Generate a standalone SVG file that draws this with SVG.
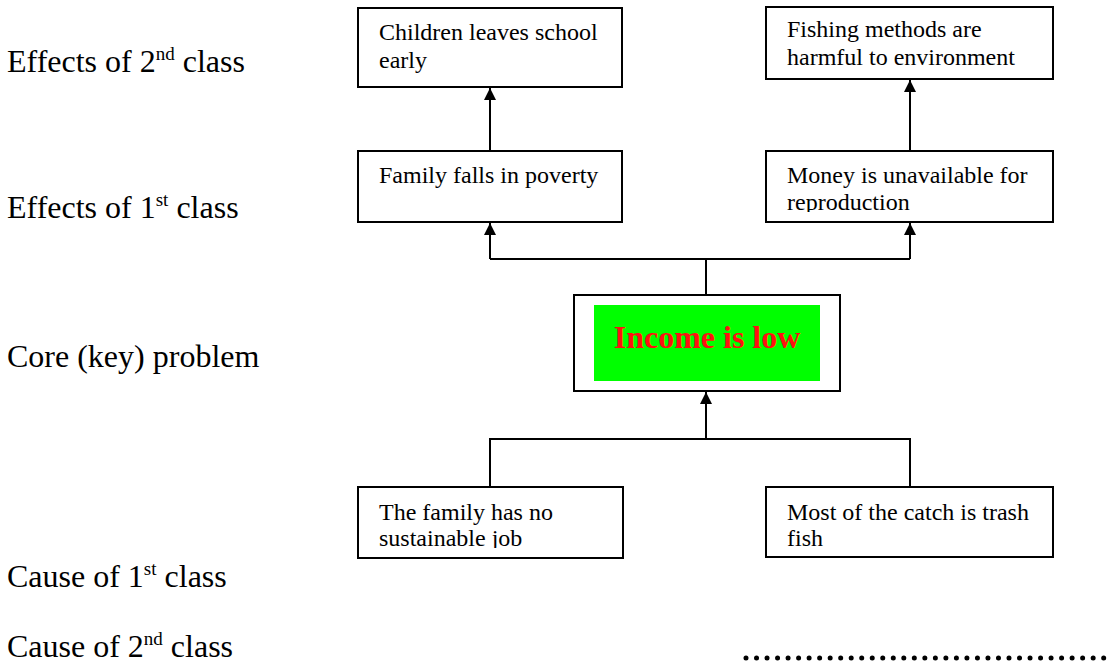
<svg xmlns="http://www.w3.org/2000/svg" width="1117" height="666" viewBox="0 0 1117 666">
  <style>
    .box { fill: #fff; stroke: #000; stroke-width: 2; }
    .txt { font-family: "Liberation Serif", "Times New Roman", serif; font-size: 24px; fill: #000; }
    .lbl { font-family: "Liberation Serif", "Times New Roman", serif; font-size: 32px; fill: #000; }
    .sup { font-size: 19px; }
    .core { font-family: "Liberation Serif", "Times New Roman", serif; font-size: 32px; font-weight: bold; fill: #ff1010; }
    .wire { fill: none; stroke: #000; stroke-width: 2; }
  </style>
  <defs>
    <marker id="arrow" viewBox="0 0 12 12" refX="12" refY="6" markerWidth="12" markerHeight="12" markerUnits="userSpaceOnUse" orient="auto">
      <path d="M0,0 L12,6 L0,12 Z" fill="#000"/>
    </marker>
    <!-- text in the boxes is cut off a little above the bottom edge -->
    <clipPath id="clip-b1"><rect x="358" y="8" width="264" height="69"/></clipPath>
    <clipPath id="clip-b2"><rect x="766" y="7" width="287" height="63"/></clipPath>
    <clipPath id="clip-b3"><rect x="358" y="151" width="264" height="61"/></clipPath>
    <clipPath id="clip-b4"><rect x="766" y="151" width="287" height="61"/></clipPath>
    <clipPath id="clip-b5"><rect x="358" y="487" width="265" height="61"/></clipPath>
    <clipPath id="clip-b6"><rect x="766" y="487" width="287" height="61"/></clipPath>
  </defs>

  <rect width="1117" height="666" fill="#fff"/>

  <!-- level labels -->
  <g id="labels">
    <text class="lbl" x="7" y="72">Effects of 2<tspan class="sup" dy="-12">nd</tspan><tspan dy="12"> class</tspan></text>
    <text class="lbl" x="7" y="218">Effects of 1<tspan class="sup" dy="-12">st</tspan><tspan dy="12"> class</tspan></text>
    <text class="lbl" x="7" y="367">Core (key) problem</text>
    <text class="lbl" x="7" y="587">Cause of 1<tspan class="sup" dy="-12">st</tspan><tspan dy="12"> class</tspan></text>
    <text class="lbl" x="7" y="657">Cause of 2<tspan class="sup" dy="-12">nd</tspan><tspan dy="12"> class</tspan></text>
  </g>

  <!-- connectors -->
  <g id="connectors">
    <line class="wire" x1="490" y1="151" x2="490" y2="88" marker-end="url(#arrow)"/>
    <line class="wire" x1="910" y1="151" x2="910" y2="80" marker-end="url(#arrow)"/>
    <path class="wire" d="M706,295 V259 M490,259 H910"/>
    <line class="wire" x1="490" y1="259" x2="490" y2="223" marker-end="url(#arrow)"/>
    <line class="wire" x1="910" y1="259" x2="910" y2="223" marker-end="url(#arrow)"/>
    <path class="wire" d="M490,487 V439 H910 V487"/>
    <line class="wire" x1="706" y1="439" x2="706" y2="392" marker-end="url(#arrow)"/>
  </g>

  <!-- effects, 2nd class -->
  <g id="children-leave-school">
    <rect class="box" x="358" y="8" width="264" height="79"/>
    <text class="txt" x="379" y="40" clip-path="url(#clip-b1)">Children leaves school<tspan x="379" dy="28">early</tspan></text>
  </g>
  <g id="harmful-fishing">
    <rect class="box" x="766" y="7" width="287" height="72"/>
    <text class="txt" x="787" y="37" clip-path="url(#clip-b2)">Fishing methods are<tspan x="787" dy="28">harmful to environment</tspan></text>
  </g>

  <!-- effects, 1st class -->
  <g id="family-poverty">
    <rect class="box" x="358" y="151" width="264" height="71"/>
    <text class="txt" x="379" y="183" clip-path="url(#clip-b3)">Family falls in poverty</text>
  </g>
  <g id="no-money">
    <rect class="box" x="766" y="151" width="287" height="71"/>
    <text class="txt" x="787" y="183" clip-path="url(#clip-b4)">Money is unavailable for<tspan x="787" dy="27">reproduction</tspan></text>
  </g>

  <!-- core problem -->
  <g id="core-problem">
    <rect class="box" x="574" y="295" width="266" height="96"/>
    <rect x="594" y="305" width="226" height="76" fill="#00ff00"/>
    <text class="core" x="707" y="348" text-anchor="middle">Income is low</text>
  </g>

  <!-- causes, 1st class -->
  <g id="no-sustainable-job">
    <rect class="box" x="358" y="487" width="265" height="71"/>
    <text class="txt" x="379" y="520" clip-path="url(#clip-b5)">The family has no<tspan x="379" dy="26">sustainable job</tspan></text>
  </g>
  <g id="trash-fish">
    <rect class="box" x="766" y="487" width="287" height="70"/>
    <text class="txt" x="787" y="520" clip-path="url(#clip-b6)">Most of the catch is trash<tspan x="787" dy="26">fish</tspan></text>
  </g>

  <!-- dotted placeholder for 2nd-class causes -->
  <line x1="746" y1="658" x2="1112" y2="658" stroke="#000" stroke-width="5" stroke-linecap="round" stroke-dasharray="0 10.52"/>
</svg>
